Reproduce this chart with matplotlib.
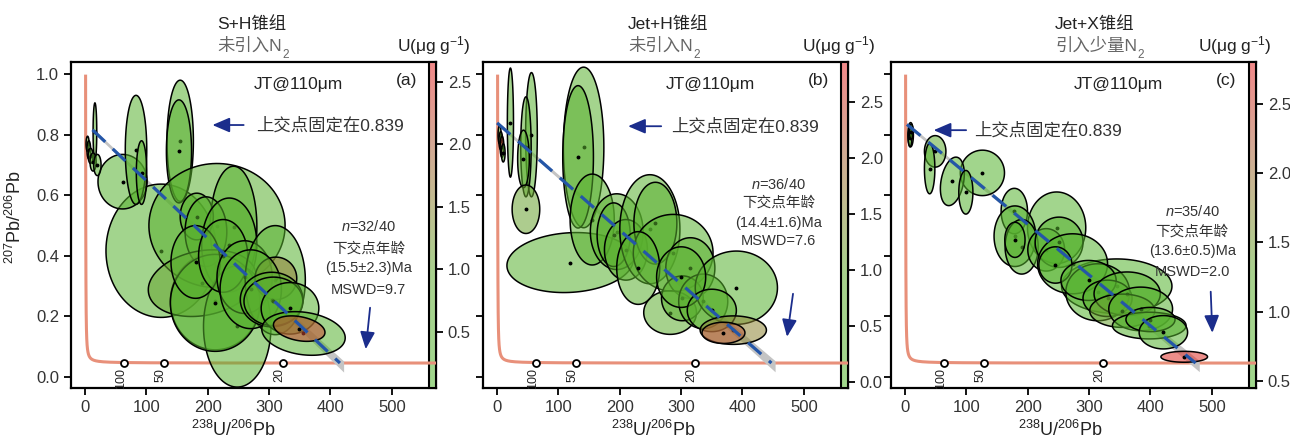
import numpy as np
import matplotlib
matplotlib.use('Agg')
import matplotlib.pyplot as plt
from matplotlib.colors import LinearSegmentedColormap, Normalize
from matplotlib.cm import ScalarMappable
from matplotlib.patches import Polygon

plt.rcParams['font.family'] = ['Liberation Sans', 'Noto Sans CJK SC']
plt.rcParams['mathtext.fontset'] = 'custom'
plt.rcParams['mathtext.rm'] = 'Liberation Sans'
plt.rcParams['mathtext.it'] = 'Liberation Sans:italic'
plt.rcParams['axes.unicode_minus'] = False

# ---- 数据：每个点 = 中心(x, y)、半轴(sx, sy)、相关系数 rho、U 含量 ----
# (a) S+H锥组
a_x   = [124, 212, 61, 83, 92, 155, 153, 215, 242, 182, 197, 235, 191, 248, 212,
         180, 225, 260, 310, 311, 270, 304, 307, 334, 356, 349,
         16, 4, 6, 9, 13, 20]
a_y   = [0.417, 0.25, 0.645, 0.75, 0.675, 0.78, 0.745, 0.50, 0.496, 0.53, 0.48, 0.436, 0.31, 0.167, 0.245,
         0.38, 0.40, 0.33, 0.32, 0.326, 0.29, 0.256, 0.25, 0.227, 0.144, 0.16,
         0.81, 0.77, 0.75, 0.73, 0.71, 0.70]
a_sx  = [90, 73, 40, 17.5, 8.5, 21.5, 20.5, 111, 38, 27, 34, 45, 88, 55, 73,
         40, 40, 45, 49, 34, 50, 51, 48, 47, 68, 42,
         3, 2.5, 3, 4, 5, 6]
a_sy  = [0.22, 0.16, 0.09, 0.18, 0.105, 0.20, 0.17, 0.205, 0.20, 0.077, 0.115, 0.155, 0.11, 0.20, 0.16,
         0.12, 0.12, 0.12, 0.18, 0.07, 0.13, 0.09, 0.08, 0.085, 0.072, 0.042,
         0.095, 0.025, 0.03, 0.025, 0.03, 0.035]
a_rho = [0, 0, 0, 0, 0, 0, 0, 0, 0, 0, 0, 0, 0.2, 0, 0,
         0, 0, 0, 0, 0, 0, 0, 0, 0, -0.2, -0.3,
         0, 0, 0, 0, 0, 0]
a_u   = [0.35, 0.4, 0.4, 0.45, 0.5, 0.45, 0.5, 0.55, 0.5, 0.5, 0.5, 0.5, 1.05, 0.35, 0.4,
         0.5, 0.6, 0.5, 0.4, 1.6, 0.45, 0.55, 0.6, 0.45, 0.35, 2.3,
         0.5, 0.6, 0.6, 0.6, 0.5, 0.5]

# (b) Jet+H锥组
b_x   = [119, 141, 132, 155, 195, 190, 210, 249, 258, 287, 230, 315, 282, 302, 336,
         390, 300, 350, 385, 369,
         21.7, 56, 47, 43, 47, 4, 6, 8, 10]
b_y   = [0.378, 0.758, 0.727, 0.52, 0.48, 0.47, 0.42, 0.488, 0.508, 0.41, 0.36, 0.36, 0.213, 0.26, 0.25,
         0.295, 0.33, 0.22, 0.155, 0.146,
         0.84, 0.80, 0.76, 0.72, 0.554, 0.80, 0.78, 0.76, 0.74]
b_sx  = [103, 33, 25, 36, 43, 27, 35, 49, 35, 65, 35, 40, 43, 34, 40,
         67, 40, 40, 54, 35,
         5, 9.5, 8.5, 9.5, 22.5, 2.5, 3, 3, 3]
b_sy  = [0.099, 0.265, 0.235, 0.15, 0.125, 0.105, 0.10, 0.18, 0.135, 0.127, 0.12, 0.10, 0.072, 0.074, 0.09,
         0.121, 0.10, 0.07, 0.047, 0.035,
         0.18, 0.205, 0.165, 0.095, 0.08, 0.03, 0.03, 0.035, 0.03]
b_rho = [0.1, 0, 0, 0, 0, 0, 0, 0, 0, 0, 0, 0, 0, 0, 0,
         0, 0, 0, 0, 0,
         0, 0, 0, 0, 0, 0, 0, 0, 0]
b_u   = [0.4, 0.45, 0.5, 0.45, 0.5, 0.5, 0.5, 0.45, 0.5, 0.4, 0.55, 0.5, 0.8, 0.5, 0.5,
         0.35, 0.55, 0.5, 1.6, 2.2,
         0.4, 0.4, 0.5, 0.6, 1.1, 0.3, 0.3, 2.3, 0.3]

# (c) Jet+X锥组
c_x   = [345, 126, 247, 178, 179, 190, 230, 251, 273, 245, 314, 299, 330, 362, 354,
         384, 398, 400, 421, 455,
         49, 40, 77, 99, 179, 9, 8, 10]
c_y   = [0.30, 0.674, 0.493, 0.548, 0.465, 0.43, 0.42, 0.445, 0.374, 0.37, 0.28, 0.319, 0.26, 0.275, 0.219,
         0.225, 0.17, 0.19, 0.148, 0.067,
         0.745, 0.688, 0.646, 0.61, 0.453, 0.80, 0.79, 0.81]
c_sx  = [90, 36, 47.5, 21.5, 34, 27, 30, 39, 57, 27, 52, 45, 40, 54, 53,
         52, 60, 40, 39.5, 38,
         17.5, 8.5, 19.5, 11.5, 16.5, 4.5, 3, 3]
c_sy  = [0.09, 0.075, 0.118, 0.075, 0.10, 0.09, 0.07, 0.083, 0.099, 0.06, 0.094, 0.066, 0.06, 0.072, 0.055,
         0.072, 0.044, 0.04, 0.055, 0.018,
         0.052, 0.083, 0.08, 0.072, 0.058, 0.04, 0.03, 0.025]
c_rho = [0, 0, 0, 0, 0, 0, 0, 0, 0, 0, 0, 0, 0, 0, 0,
         0, 0, 0, 0, 0,
         0, 0, 0.3, 0, 0, 0, 0, 0]
c_u   = [0.65, 0.6, 0.7, 0.7, 0.7, 0.75, 0.75, 0.75, 0.7, 0.7, 0.7, 0.75, 0.8, 0.75, 1.4,
         0.75, 0.7, 0.8, 0.75, 2.7,
         1.2, 0.7, 0.7, 0.7, 0.8, 0.6, 0.6, 0.6]

group_names = ['S+H锥组', 'Jet+H锥组', 'Jet+X锥组']
group_notes = ['未引入N', '未引入N', '引入少量N']   # 后接下标 2
panel_tags = ['(a)', '(b)', '(c)']
n_used = ['32/40', '36/40', '35/40']
lower_age = [15.5, 14.4, 13.6]
lower_err = [2.3, 1.6, 0.5]
mswd = [9.7, 7.6, 2.0]
upper_207 = 0.839
u_range = [(0.05, 2.66), (-0.05, 2.86), (0.45, 2.80)]
u_ticks = [[0.5, 1.0, 1.5, 2.0, 2.5],
           [0.0, 0.5, 1.0, 1.5, 2.0, 2.5],
           [0.5, 1.0, 1.5, 2.0, 2.5]]
concordia_marks = [100, 50, 20]

panels = [
    (a_x, a_y, a_sx, a_sy, a_rho, a_u),
    (b_x, b_y, b_sx, b_sy, b_rho, b_u),
    (c_x, c_y, c_sx, c_sy, c_rho, c_u),
]

# Tera-Wasserburg 谐和线
L238, L235, U85 = 1.55125e-10, 9.8485e-10, 137.88


def tw(t_ma):
    t = np.asarray(t_ma, dtype=float) * 1e6
    e8 = np.exp(L238 * t) - 1
    e5 = np.exp(L235 * t) - 1
    return 1 / e8, e5 / e8 / U85


u_cmap = LinearSegmentedColormap.from_list(
    'u_ppm', [(0.0, '#52b62e'), (0.35, '#60ab30'), (0.55, '#8a8a35'),
              (0.75, '#b0603c'), (1.0, '#e62828')])
FILL_ALPHA = 0.55

W, H = 1290, 440
fig = plt.figure(figsize=(W / 100, H / 100), dpi=100)

panel_left = [71, 483, 891]
ax_top, ax_bot, ax_w = 62, 388, 365
title_x = [217, 628, 1055]
ulabel_x = [397, 802, 1198]
xlabel_pos = [(0.445, -0.098), (0.467, -0.098), (0.463, -0.098)]
reg_start = [12, 0, 3]
stats_x = [462, 459, 468]
stats_y = [[0.496, 0.425, 0.359, 0.287],
           [0.637, 0.576, 0.51, 0.449],
           [0.545, 0.479, 0.416, 0.346]]
up_arrow = [((263, 0.832), (203, 0.832), 279),
            ((272, 0.828), (209, 0.828), 283),
            ((104, 0.815), (42, 0.815), 112)]
down_arrow = [((465, 0.238), (457, 0.083)),
              ((483, 0.284), (472, 0.124)),
              ((498, 0.291), (501, 0.137))]
navy = '#1b2d8c'

tt = np.linspace(0, 2 * np.pi, 120)
t_curve = np.concatenate([np.linspace(4.5, 60, 300), np.linspace(60, 5235, 600)])
cx_curve, cy_curve = tw(t_curve)
note_texts = []

for i, (px, py, psx, psy, prho, pu) in enumerate(panels):
    ax = fig.add_axes([panel_left[i] / W, 1 - ax_bot / H, ax_w / W, (ax_bot - ax_top) / H])
    ax.set_xlim(-23, 572)
    ax.set_ylim(-0.036, 1.04)

    norm = Normalize(*u_range[i])

    # 谐和线及年龄标记
    ax.plot(cx_curve, cy_curve, color='#e8907a', lw=2.2, zorder=6, solid_capstyle='butt')
    mx, my = tw(concordia_marks)
    ax.plot(mx, my, 'o', ms=5, mfc='white', mec='black', mew=1.3, zorder=6.5)
    for age, xm in zip(concordia_marks, mx):
        ax.text(xm - 6, 0.03, str(age), rotation=90, ha='center', va='top',
                fontsize=9, color='#222', zorder=6.5)

    # 不一致线的误差带（压在椭圆下面）
    xl, yl = tw(lower_age[i])
    slope = (yl - upper_207) / xl
    xs = np.linspace(reg_start[i], xl + 6, 100)
    yc = upper_207 + slope * xs
    hw = 0.006 + 0.012 * (xs / xl) ** 2
    ax.fill_between(xs, yc - hw, yc + hw, color='#c4c4c4', lw=0, zorder=7)

    # 误差椭圆
    for k in range(len(px)):
        ex = px[k] + psx[k] * np.cos(tt)
        ey = py[k] + psy[k] * (prho[k] * np.cos(tt) + np.sqrt(1 - prho[k] ** 2) * np.sin(tt))
        r, g, b, _ = u_cmap(norm(pu[k]))
        ax.add_patch(Polygon(np.column_stack([ex, ey]), closed=True,
                             facecolor=(r, g, b, FILL_ALPHA), edgecolor='black',
                             lw=1.1, zorder=10 + k))
        ax.plot(px[k], py[k], 'o', ms=1.8, color='black', zorder=10 + k)

    # 上交点固定的不一致线
    xr = np.array([reg_start[i], xl])
    ax.plot(xr, upper_207 + slope * xr, color='#2456a8', lw=2.3,
            dashes=(5.5, 3.2), zorder=81)

    # 文本注释
    ax.text(348, 0.965, 'JT@110μm', ha='center', va='center', fontsize=12.5,
            color='#222', zorder=90)
    ax.text(524, 0.978, panel_tags[i], ha='center', va='center', fontsize=12.5,
            color='#222', zorder=90)
    (x0, y0), (x1, y1), tx = up_arrow[i]
    ax.annotate('', xy=(x1, y1), xytext=(x0, y0), zorder=90,
                arrowprops=dict(arrowstyle='-|>,head_length=0.7,head_width=0.3',
                                color=navy, lw=1.3, mutation_scale=15))
    ax.text(tx, y0, f'上交点固定在{upper_207}', ha='left', va='center',
            fontsize=12.5, color='#333', zorder=90)

    lines = [f'$n$={n_used[i]}', '下交点年龄',
             f'({lower_age[i]}±{lower_err[i]})Ma', f'MSWD={mswd[i]}']
    for s, yy in zip(lines, stats_y[i]):
        ax.text(stats_x[i], yy, s, ha='center', va='center', fontsize=10.5,
                color='#333', zorder=90)
    (x0, y0), (x1, y1) = down_arrow[i]
    ax.annotate('', xy=(x1, y1), xytext=(x0, y0), zorder=90,
                arrowprops=dict(arrowstyle='-|>,head_length=0.7,head_width=0.3',
                                color=navy, lw=1.3, mutation_scale=15))

    # 坐标轴
    ax.set_xticks([0, 100, 200, 300, 400, 500])
    ax.set_yticks([0.0, 0.2, 0.4, 0.6, 0.8, 1.0])
    ax.tick_params(direction='out', length=5, width=1.3, labelsize=12,
                   labelcolor='#333', right=False, top=False)
    if i > 0:
        ax.tick_params(labelleft=False)
    else:
        ax.set_ylabel('$^{207}$Pb/$^{206}$Pb', fontsize=13, color='#222')
        ax.yaxis.set_label_coords(-0.125, 0.525)
    for sp in ax.spines.values():
        sp.set_linewidth(1.6)
    ax.set_xlabel('$^{238}$U/$^{206}$Pb', fontsize=13, color='#222')
    ax.xaxis.set_label_coords(*xlabel_pos[i])

    # U 含量色标
    cax = ax.inset_axes([1 - 7 / ax_w, 0, 7 / ax_w, 1])
    cb = fig.colorbar(ScalarMappable(norm=norm, cmap=u_cmap), cax=cax, alpha=FILL_ALPHA)
    cb.set_ticks(u_ticks[i])
    cb.ax.set_yticklabels([f'{v:.1f}' for v in u_ticks[i]])
    cb.ax.tick_params(direction='out', length=5, width=1.3, labelsize=12,
                      labelcolor='#333')
    cb.outline.set_linewidth(1.5)

    fig.text(title_x[i] / W, 1 - 24 / H, group_names[i], ha='left', va='center',
             fontsize=12.5, color='#222')
    note_texts.append(fig.text(title_x[i] / W, 1 - 46 / H, group_notes[i], ha='left',
                               va='center', fontsize=12.5, color='#666'))
    fig.text(ulabel_x[i] / W, 1 - 46 / H, 'U(μg g$^{-1}$)', ha='left', va='center',
             fontsize=12.5, color='#222')

# N 的下标 2：接在文字右下方
renderer = fig.canvas.get_renderer()
for t in note_texts:
    bb = t.get_window_extent(renderer=renderer)
    fig.text((bb.x1 + 0.5) / W, (bb.y0 - 1) / H, '2', ha='left', va='center',
             fontsize=8.5, color='#666')

fig.savefig('out.png', dpi=100)
